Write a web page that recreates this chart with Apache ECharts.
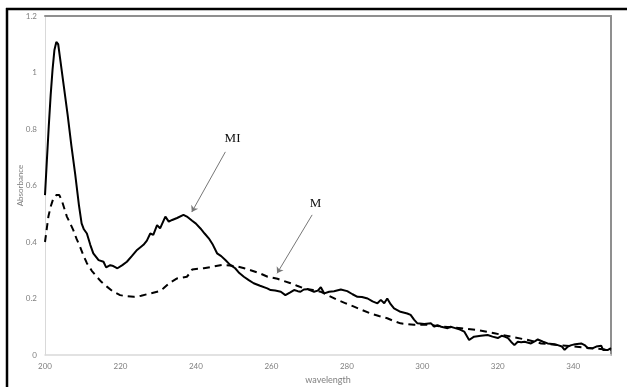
<!DOCTYPE html>
<html>
<head>
<meta charset="utf-8">
<script src="https://cdn.jsdelivr.net/npm/echarts@6/dist/echarts.min.js"></script>
<style>
html,body{margin:0;padding:0;background:#fff;}
#c{width:627px;height:387px;}
</style>
</head>
<body>
<div id="c"></div>
<script>
// MI (solid) spectrum
var miWave = [200,200.5,201,201.5,202,202.5,203,203.5,204,205,206,207,208,209,209.7,210.3,211.1,212,212.8,214.2,215.5,216.2,217.3,218.1,219.2,220.5,221.7,223,224.4,226.1,227,227.9,228.7,229.7,230.5,231.9,232.8,233.7,235,236.7,237.6,239,240,241.2,242.3,243.4,244.5,245.6,246.7,247.8,249,250.4,251.5,252.7,254,255.3,257,258.9,259.8,261,262.5,263.7,265,266,267,267.7,268.6,269.5,270.5,271.3,272.3,273.1,274,275.3,276.6,278.4,280.1,281.5,282.8,284,285.5,286.8,288.1,289,289.9,290.7,291.6,292.5,294.2,296,296.9,297.8,298.7,300.5,302.3,303.2,304,305,306.7,307.5,308.5,310,311.1,312.4,313.7,315.5,317.3,318.6,320,321,321.8,322.7,323.5,324.4,325.3,326.2,327.1,328.8,330,330.6,332,333.2,335,335.9,337,337.7,338.6,339.5,340.5,342.1,343,343.9,345.2,346.1,347.4,347.9,349.2,350];
var miAbs = [0.566,0.69,0.81,0.92,1.01,1.08,1.108,1.10,1.05,0.95,0.85,0.74,0.64,0.53,0.466,0.445,0.43,0.39,0.36,0.336,0.33,0.31,0.318,0.315,0.307,0.318,0.33,0.35,0.372,0.39,0.405,0.43,0.425,0.46,0.448,0.49,0.472,0.478,0.485,0.496,0.49,0.475,0.465,0.448,0.43,0.413,0.39,0.36,0.35,0.336,0.32,0.307,0.29,0.277,0.265,0.254,0.245,0.236,0.230,0.228,0.224,0.212,0.222,0.23,0.226,0.224,0.232,0.233,0.228,0.224,0.228,0.24,0.218,0.224,0.226,0.232,0.226,0.215,0.206,0.205,0.20,0.19,0.183,0.195,0.183,0.20,0.18,0.165,0.153,0.147,0.142,0.125,0.112,0.11,0.112,0.10,0.106,0.10,0.095,0.1,0.096,0.09,0.083,0.053,0.065,0.068,0.071,0.065,0.06,0.068,0.065,0.06,0.047,0.035,0.047,0.045,0.047,0.041,0.05,0.055,0.047,0.041,0.038,0.035,0.03,0.018,0.03,0.035,0.038,0.041,0.035,0.024,0.024,0.03,0.033,0.018,0.018,0.024];

// M (dashed) spectrum
var mWave = [200,200.5,200.9,201.5,202.2,203,203.8,204.5,205.8,206.7,207.5,208.4,209.3,210.2,211.1,212.4,213.7,215,216.4,218,219.9,221.5,223.5,225.5,227.9,230.1,231.4,233,235,237.6,238.4,239,240.5,242.1,244.5,247,249,251,252.8,254.5,256.8,259,261.6,263.3,265.1,266.8,268.6,271,273,275.2,277.5,279.7,281.9,284.1,286.3,288.5,290.7,292.5,294.2,297.8,301.3,305.8,310.3,314.7,319.1,323.5,328,331.5,336,340.3,344.8,350];
var mAbs = [0.40,0.45,0.49,0.525,0.554,0.566,0.566,0.545,0.49,0.465,0.442,0.41,0.383,0.352,0.325,0.298,0.277,0.258,0.242,0.225,0.212,0.208,0.206,0.21,0.218,0.225,0.236,0.255,0.271,0.277,0.29,0.303,0.305,0.307,0.313,0.319,0.317,0.313,0.307,0.30,0.29,0.277,0.27,0.262,0.254,0.245,0.236,0.23,0.224,0.21,0.195,0.183,0.171,0.159,0.147,0.138,0.13,0.12,0.112,0.107,0.107,0.10,0.095,0.088,0.077,0.065,0.053,0.041,0.035,0.030,0.024,0.018];

// annotations: [label, textX, textY, arrowFromX, arrowFromY, arrowToX, arrowToY]
var miNote = ['MI', 249.7, 0.765, 247.8, 0.719, 238.9, 0.506];
var mNote  = ['M', 271.7, 0.535, 270.8, 0.496, 261.5, 0.289];

var xTicks = {min:200, max:350, interval:20};
var yTicks = {min:0, max:1.2, interval:0.2};

function zip(a,b){ var r=[]; for(var i=0;i<a.length;i++) r.push([a[i],b[i]]); return r; }
function note(n){
  return {
    markLine: {
      silent: true, symbol: ['none','arrow'], symbolSize: 6,
      label: {show:false},
      lineStyle: {color:'#777', width:1, type:'solid'},
      data: [[{coord:[n[3],n[4]]},{coord:[n[5],n[6]]}]]
    },
    markPoint: {
      silent: true, symbol: 'circle', symbolSize: 0,
      label: {show:true, formatter:n[0], color:'#111', fontFamily:'Liberation Serif', fontSize:13},
      data: [{coord:[n[1],n[2]]}]
    }
  };
}

var lbl = {color:'#7f7f7f', fontFamily:'Lato', fontSize:8};
var chart = echarts.init(document.getElementById('c'));
var s1 = Object.assign({type:'line', name:'MI', data: zip(miWave, miAbs), showSymbol:false, symbol:'none', smooth:false,
  lineStyle:{color:'#000', width:2}, z:3}, note(miNote));
var s2 = Object.assign({type:'line', name:'M', data: zip(mWave, mAbs), showSymbol:false, symbol:'none',
  lineStyle:{color:'#000', width:2, type:[7,5]}, z:2}, note(mNote));

chart.setOption({
  animation:false,
  backgroundColor:'#fff',
  grid:{left:45, right:16, top:16, bottom:32, containLabel:false, outerBoundsMode:'none'},
  xAxis:[{
    type:'value', min:xTicks.min, max:xTicks.max, interval:xTicks.interval,
    name:'wavelength', nameLocation:'middle', nameGap:21, nameMoveOverlap:false,
    nameTextStyle:{color:'#7f7f7f', fontFamily:'Lato', fontSize:9},
    axisLine:{show:true, lineStyle:{color:'#d9d9d9', width:1.5}},
    axisTick:{show:false}, splitLine:{show:false},
    axisLabel:Object.assign({margin:7, showMaxLabel:false}, lbl)
  },{
    type:'value', position:'top', min:xTicks.min, max:xTicks.max,
    axisLine:{show:true, onZero:false, lineStyle:{color:'#8f8f8f', width:2}},
    axisTick:{show:false}, axisLabel:{show:false}, splitLine:{show:false}
  }],
  yAxis:[{
    type:'value', min:yTicks.min, max:yTicks.max, interval:yTicks.interval,
    name:'Absorbance', nameLocation:'middle', nameGap:21, nameMoveOverlap:false,
    nameTextStyle:{color:'#7f7f7f', fontFamily:'Lato', fontSize:8},
    axisLine:{show:true, lineStyle:{color:'#d9d9d9', width:1}},
    axisTick:{show:false}, splitLine:{show:false},
    axisLabel:Object.assign({margin:8}, lbl)
  },{
    type:'value', position:'right', min:yTicks.min, max:yTicks.max,
    axisLine:{show:true, onZero:false, lineStyle:{color:'#8f8f8f', width:2}},
    axisTick:{show:false}, axisLabel:{show:false}, splitLine:{show:false}
  }],
  graphic:[
    {type:'line', shape:{x1:6, y1:9, x2:627, y2:9}, style:{stroke:'#000', lineWidth:2.5}},
    {type:'line', shape:{x1:7, y1:8, x2:7, y2:387}, style:{stroke:'#000', lineWidth:2.5}}
  ],
  series:[s1, s2]
});
</script>
</body>
</html>
